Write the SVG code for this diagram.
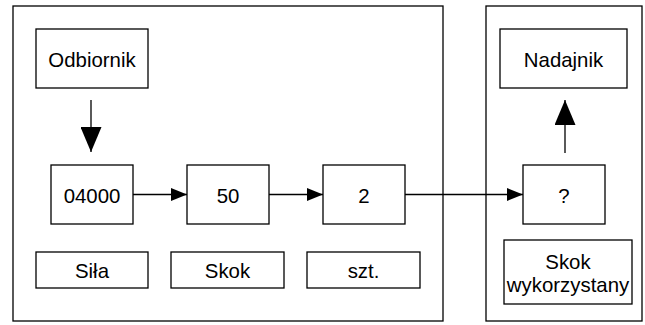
<svg xmlns="http://www.w3.org/2000/svg" width="645" height="325" viewBox="0 0 645 325">
<style>
rect{fill:#fff;stroke:#000;stroke-width:1.3}
text{font-family:"Liberation Sans",Arial,Helvetica,sans-serif;font-size:20.4px;fill:#000;text-anchor:middle}
.c line{stroke:#000;stroke-width:1.3}
</style>
<defs>
<marker id="ah" markerUnits="userSpaceOnUse" markerWidth="16" markerHeight="13" refX="16" refY="6.5" orient="auto"><path d="M0,0 L16,6.5 L0,13 z" fill="#000"/></marker>
<marker id="ab" markerUnits="userSpaceOnUse" markerWidth="25" markerHeight="21" refX="25" refY="10.5" orient="auto"><path d="M0,0 L25,10.5 L0,21 z" fill="#000"/></marker>
</defs>
<g id="containerLeft"><rect x="13" y="6" width="430" height="315"/></g>
<g id="containerRight"><rect x="486" y="6" width="156" height="315"/></g>
<g id="odbiornik"><rect x="36" y="29" width="112" height="59"/><text x="92" y="66.5">Odbiornik</text></g>
<g id="n04000"><rect x="51" y="165" width="82" height="59"/><text x="92" y="202.5">04000</text></g>
<g id="n50"><rect x="187" y="165" width="82" height="59"/><text x="228" y="202.5">50</text></g>
<g id="n2"><rect x="323" y="165" width="82" height="59"/><text x="364" y="202.5">2</text></g>
<g id="nq"><rect x="523" y="165" width="82" height="59"/><text x="564" y="202.5">?</text></g>
<g id="sila"><rect x="36" y="252" width="112" height="36"/><text x="92" y="278">Siła</text></g>
<g id="skok"><rect x="171" y="252" width="113" height="36"/><text x="227.5" y="278">Skok</text></g>
<g id="szt"><rect x="307" y="252" width="113" height="36"/><text x="363.5" y="278">szt.</text></g>
<g id="nadajnik"><rect x="500" y="29" width="127" height="59"/><text x="563.5" y="66.5">Nadajnik</text></g>
<g id="skokWyk"><rect x="504" y="240" width="128" height="64"/><text x="568" y="268.5">Skok</text><text x="568" y="291.8">wykorzystany</text></g>
<g id="connectors" class="c">
<line x1="91" y1="100" x2="91" y2="152" marker-end="url(#ab)"/>
<line x1="133" y1="194.5" x2="187" y2="194.5" marker-end="url(#ah)"/>
<line x1="269" y1="194.5" x2="323" y2="194.5" marker-end="url(#ah)"/>
<line x1="405" y1="194.5" x2="523" y2="194.5" marker-end="url(#ah)"/>
<line x1="565" y1="153" x2="565" y2="100" marker-end="url(#ab)"/>
</g>
</svg>
